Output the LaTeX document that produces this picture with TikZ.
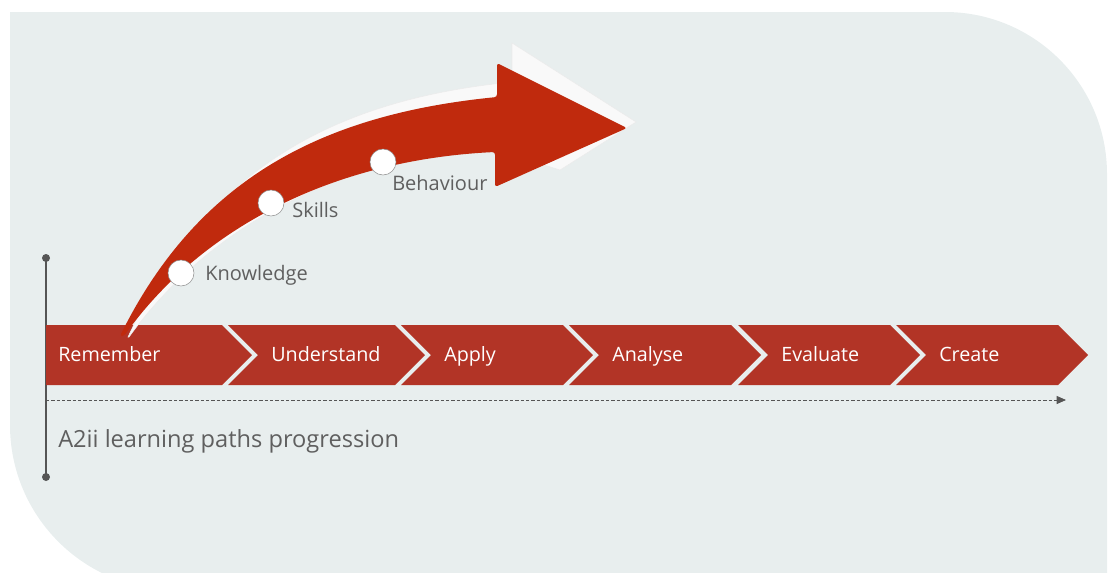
\documentclass[tikz,border=0pt]{standalone}
\usepackage{fontspec}
\setmainfont{Open Sans}
\usetikzlibrary{arrows.meta}
\definecolor{bgcol}{RGB}{232,238,238}
\definecolor{chevred}{RGB}{178,52,38}
\definecolor{arrred}{RGB}{192,42,13}
\definecolor{txtgrey}{RGB}{95,95,95}
\definecolor{axgrey}{RGB}{85,85,85}
\definecolor{glint}{RGB}{249,249,249}

\begin{document}
\begin{tikzpicture}[x=0.75pt,y=-0.75pt,
	stage/.style={text=white, anchor=base west, inner sep=0pt, font=\fontsize{14.8}{16}\selectfont},
	stop/.style={circle, draw=txtgrey!70, fill=white, minimum size=19.5pt, inner sep=0pt},
	tag/.style={text=txtgrey, anchor=base west, inner sep=0pt, font=\fontsize{15}{17}\selectfont}]
	\useasboundingbox (0,0) rectangle (1109,572);
	\fill[bgcol] (10,12) -- (945,12) arc[start angle=-90, end angle=0, radius=162] -- (1107,590)
		-- (175,590) arc[start angle=90, end angle=180, radius=165] -- cycle;
	\coordinate (top) at (46,258);
	\coordinate (bot) at (46,477);
	\coordinate (o) at (46,400);
	\coordinate (e) at (1066,400);
	\draw[axgrey, line width=0.9pt] (top) -- (bot);
	\fill[axgrey] (top) circle (3pt) (bot) circle (3pt);
	\draw[axgrey, line width=0.6pt, dash pattern=on 2.5pt off 1.5pt, -{Triangle[length=7pt, width=6pt]}] (o) -- (e);
	\fill[chevred] (46,325) -- (222,325) -- (252,355) -- (222,385) -- (46,385) -- cycle;
	\node[stage] (rem) at (58,361) {Remember};
	\foreach \a/\b/\t/\n in {228/395/Understand/und, 401/563/Apply/app, 569/731/Analyse/ana, 738/890/Evaluate/eva, 896/1058/Create/cre}{
		\fill[chevred] (\a,325) -- (\b,325) -- (\b+30,355) -- (\b,385) -- (\a,385) -- (\a+30,355) -- cycle;
		\node[stage] (\n) at (\a+43,361) {\t};
	}
	\node[text=txtgrey, anchor=base west, inner sep=0pt, font=\fontsize{17.7}{20}\selectfont] (title) at (58,447) {A2ii learning paths progression};
	\fill[glint, draw=black!8, line width=0.4pt] (128,337) .. controls (205,172) and (330,100) .. (512,82) -- (512,43) -- (636,122)
		-- (560,170) -- (497,150) .. controls (330,158) and (205,232) .. (129,337) -- cycle;
	\fill[arrred, rounded corners=2pt] (120,336) .. controls (200,175) and (327,114) .. (497,97) -- (497,63) -- (627,128) -- (495,187)
		-- (495,152) .. controls (330,160) and (200,230) .. (124,336) -- cycle;
	\node[stop] (kn) at (181,273) {};
	\node[stop] (sk) at (271,203) {};
	\node[stop] (bh) at (383,162) {};
	\node[tag] (knt) at (205,280) {Knowledge};
	\node[tag] (skt) at (292,217) {Skills};
	\node[tag] (bht) at (392,190) {Behaviour};
\end{tikzpicture}
\end{document}
